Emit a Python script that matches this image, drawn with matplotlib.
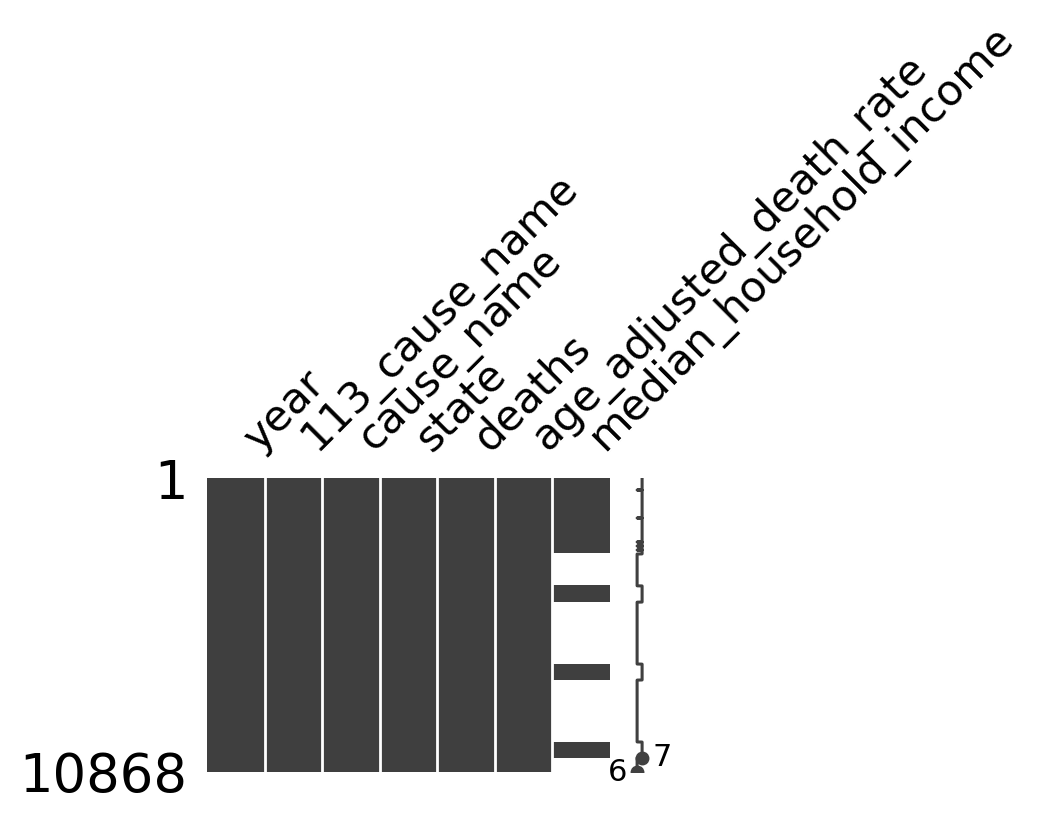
import numpy as np
import matplotlib
matplotlib.use("Agg")
import matplotlib.pyplot as plt

n_rows = 10868
columns = ["year", "113_cause_name", "cause_name", "state", "deaths",
           "age_adjusted_death_rate", "median_household_income"]

# row ranges (start, end) where median_household_income is missing
gap_starts = [444, 1479, 2366, 2514, 2662, 2810, 4590, 7470, 10345]
gap_ends = [448, 1483, 2370, 2518, 2666, 3990, 6880, 9760, 10868]

color = (0.25, 0.25, 0.25)

present = np.ones((n_rows, len(columns)), dtype=bool)
for s, e in zip(gap_starts, gap_ends):
    present[s:e, -1] = False

g = np.ones((n_rows, len(columns), 3), dtype=np.float32)
g[present] = color

fig = plt.figure(figsize=(10.4, 8.24), dpi=100)
ax0 = fig.add_axes([0.199, 0.0631, 0.3875, 0.3568])
ax1 = fig.add_axes([0.603, 0.0631, 0.024, 0.3568])

ax0.imshow(g, interpolation="none", aspect="auto")
ax0.grid(False)
ax0.xaxis.tick_top()
for sp in ax0.spines.values():
    sp.set_visible(False)
ax0.set_xticks(range(len(columns)))
ax0.set_xticklabels(columns, rotation=45, ha="left", fontsize=30.8)
ax0.set_yticks([0, n_rows - 1])
ax0.set_yticklabels([1, n_rows], fontsize=38)
ax0.tick_params(axis="x", length=0, pad=14)
ax0.tick_params(axis="y", length=0, pad=14)
for x in range(len(columns) - 1):
    ax0.axvline(x + 0.5, color="white", linewidth=2)

# sparkline of row completeness
completeness = present.sum(axis=1)
y_range = list(reversed(completeness))
x_domain = list(range(n_rows))
cmin, cmax = min(y_range), max(y_range)
imin, imax = y_range.index(cmin), y_range.index(cmax)

for sp in ax1.spines.values():
    sp.set_visible(False)
ax1.set_ymargin(0)
ax1.plot(y_range, x_domain, color=color, linewidth=2.2)
ax1.set_xticks([])
ax1.set_yticks([])
ax1.annotate(cmax, xy=(cmax, imax), xytext=(cmax + 2, imax),
             fontsize=22, va="center", ha="left")
ax1.annotate(cmin, xy=(cmin, imin), xytext=(cmin - 2, imin),
             fontsize=22, va="center", ha="right")
ax1.set_xlim([cmin - 2, cmax + 2])
ax1.plot([cmin], [imin], ".", color=color, markersize=18)
ax1.plot([cmax], [imax], ".", color=color, markersize=18)

fig.savefig("out.png", dpi=100)
